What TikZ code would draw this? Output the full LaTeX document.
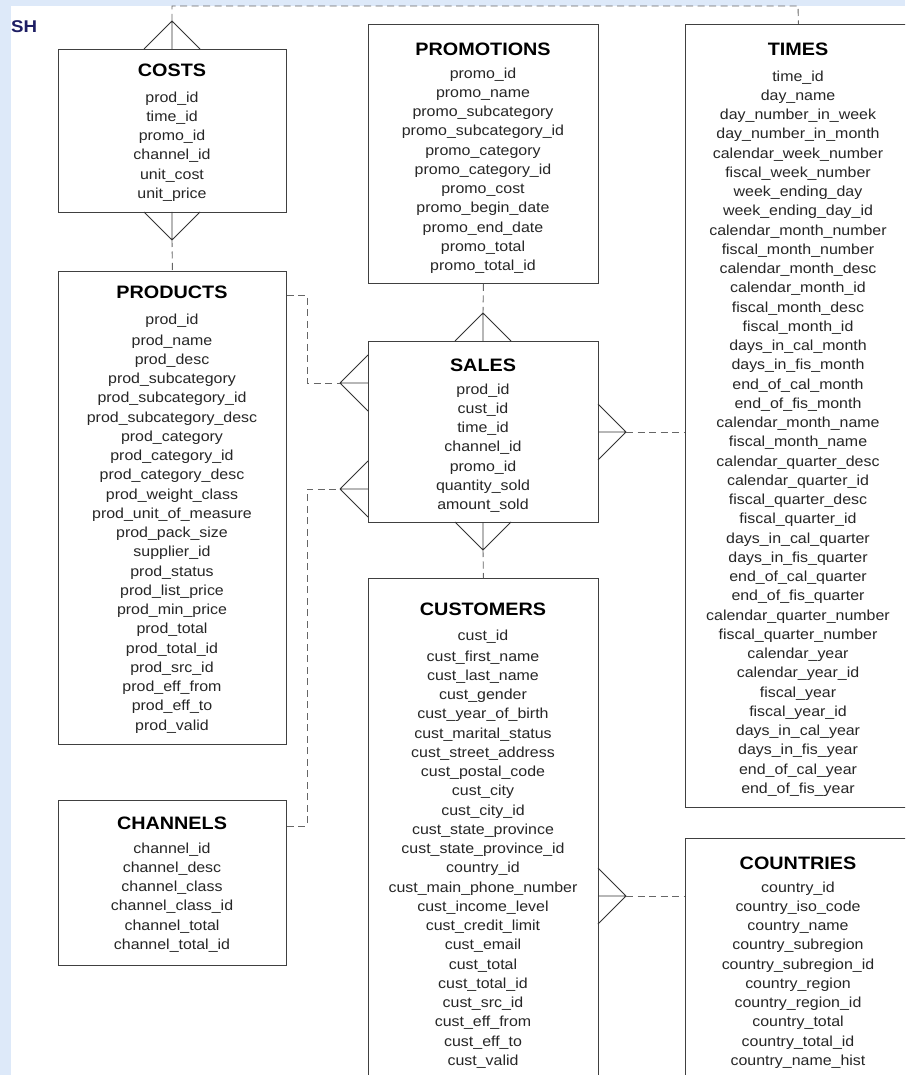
\documentclass[tikz,border=0pt]{standalone}
\usepackage{fontspec}
\setmainfont{Liberation Sans}[FakeStretch=1.1]
\definecolor{slideblue}{RGB}{221,233,249}
\definecolor{shnavy}{RGB}{30,30,100}

\begin{document}
\begin{tikzpicture}[x=1pt,y=-1pt,
  tbl/.style={draw=black!75, line width=0.9pt, fill=white, anchor=north west, inner sep=0pt},
  ttl/.style={font=\fontsize{18}{20}\selectfont\bfseries, inner sep=0pt},
  rows/.style={font=\fontsize{14.5}{19.25}\selectfont, text=black!85, align=center, anchor=north, inner sep=0pt},
  foot/.style={line width=0.9pt, black!80},
  rel/.style={line width=0.9pt, black!60, dash pattern=on 7pt off 4.5pt}]
 \useasboundingbox (0,0) rectangle (905,1075);
 \clip (0,0) rectangle (905,1075);
 \fill[slideblue] (0,0) rectangle (905,1075);
 \fill[white] (11,6) rectangle (905,1075);
 \node[font=\fontsize{17}{20}\selectfont\bfseries, text=shnavy, anchor=west, inner sep=0pt] (sh) at (11,27) {SH};

 % tables
 \node[tbl, minimum width=228, minimum height=163] (costs) at (58,49) {};
 \node[ttl] (costsT) at (172,70) {COSTS};
 \node[rows] (costsR) at (172,91.5) {prod\_id\\time\_id\\promo\_id\\channel\_id\\unit\_cost\\unit\_price};

 \node[tbl, minimum width=228, minimum height=473] (products) at (58,271) {};
 \node[ttl] (productsT) at (172,292) {PRODUCTS};
 \node[rows] (productsR) at (172,313.5) {prod\_id\\[1.75pt]prod\_name\\prod\_desc\\prod\_subcategory\\prod\_subcategory\_id\\prod\_subcategory\_desc\\prod\_category\\prod\_category\_id\\prod\_category\_desc\\prod\_weight\_class\\prod\_unit\_of\_measure\\prod\_pack\_size\\supplier\_id\\prod\_status\\prod\_list\_price\\prod\_min\_price\\prod\_total\\prod\_total\_id\\prod\_src\_id\\prod\_eff\_from\\prod\_eff\_to\\prod\_valid};

 \node[tbl, minimum width=228, minimum height=165] (channels) at (58,800) {};
 \node[ttl] (channelsT) at (172,823) {CHANNELS};
 \node[rows] (channelsR) at (172,842.5) {channel\_id\\channel\_desc\\channel\_class\\channel\_class\_id\\channel\_total\\channel\_total\_id};

 \node[tbl, minimum width=230, minimum height=259] (promotions) at (368,24) {};
 \node[ttl] (promotionsT) at (483,49) {PROMOTIONS};
 \node[rows] (promotionsR) at (483,67.5) {promo\_id\\promo\_name\\promo\_subcategory\\promo\_subcategory\_id\\promo\_category\\promo\_category\_id\\promo\_cost\\promo\_begin\_date\\promo\_end\_date\\promo\_total\\promo\_total\_id};

 \node[tbl, minimum width=230, minimum height=181] (sales) at (368,341) {};
 \node[ttl] (salesT) at (483,365) {SALES};
 \node[rows] (salesR) at (483,383.5) {prod\_id\\cust\_id\\time\_id\\channel\_id\\promo\_id\\quantity\_sold\\amount\_sold};

 \node[tbl, minimum width=230, minimum height=520] (customers) at (368,578) {};
 \node[ttl] (customersT) at (483,609) {CUSTOMERS};
 \node[rows] (customersR) at (483,629.5) {cust\_id\\[1.75pt]cust\_first\_name\\cust\_last\_name\\cust\_gender\\cust\_year\_of\_birth\\cust\_marital\_status\\cust\_street\_address\\cust\_postal\_code\\cust\_city\\cust\_city\_id\\cust\_state\_province\\cust\_state\_province\_id\\country\_id\\cust\_main\_phone\_number\\cust\_income\_level\\cust\_credit\_limit\\cust\_email\\cust\_total\\cust\_total\_id\\cust\_src\_id\\cust\_eff\_from\\cust\_eff\_to\\cust\_valid};

 \node[tbl, minimum width=226, minimum height=783] (times) at (685,24) {};
 \node[ttl] (timesT) at (798,49) {TIMES};
 \node[rows] (timesR) at (798,70.5) {time\_id\\day\_name\\day\_number\_in\_week\\day\_number\_in\_month\\calendar\_week\_number\\fiscal\_week\_number\\week\_ending\_day\\week\_ending\_day\_id\\calendar\_month\_number\\fiscal\_month\_number\\calendar\_month\_desc\\calendar\_month\_id\\fiscal\_month\_desc\\fiscal\_month\_id\\days\_in\_cal\_month\\days\_in\_fis\_month\\end\_of\_cal\_month\\end\_of\_fis\_month\\calendar\_month\_name\\fiscal\_month\_name\\calendar\_quarter\_desc\\calendar\_quarter\_id\\fiscal\_quarter\_desc\\fiscal\_quarter\_id\\days\_in\_cal\_quarter\\days\_in\_fis\_quarter\\end\_of\_cal\_quarter\\end\_of\_fis\_quarter\\calendar\_quarter\_number\\fiscal\_quarter\_number\\calendar\_year\\calendar\_year\_id\\fiscal\_year\\fiscal\_year\_id\\days\_in\_cal\_year\\days\_in\_fis\_year\\end\_of\_cal\_year\\end\_of\_fis\_year};

 \node[tbl, minimum width=226, minimum height=260] (countries) at (685,838) {};
 \node[ttl] (countriesT) at (798,863) {COUNTRIES};
 \node[rows] (countriesR) at (798,881.5) {country\_id\\country\_iso\_code\\country\_name\\country\_subregion\\country\_subregion\_id\\country\_region\\country\_region\_id\\country\_total\\country\_total\_id\\country\_name\_hist};

 % crow's feet
 \coordinate (fCostsT) at (172,21);
 \coordinate (fCostsB) at (172,240);
 \coordinate (fSalesP) at (340,383);
 \coordinate (fSalesC) at (340,489);
 \coordinate (fSalesT) at (483,313);
 \coordinate (fSalesB) at (483,550);
 \coordinate (fSalesR) at (626,432);
 \coordinate (fCust) at (626,896);
 \draw[foot] (fCostsT) -- ++(-28,28) (fCostsT) -- ++(0,28) (fCostsT) -- ++(28,28);
 \draw[foot] (fCostsB) -- ++(-28,-28) (fCostsB) -- ++(0,-28) (fCostsB) -- ++(28,-28);
 \draw[foot] (fSalesP) -- ++(28,-28) (fSalesP) -- ++(28,0) (fSalesP) -- ++(28,28);
 \draw[foot] (fSalesC) -- ++(28,-28) (fSalesC) -- ++(28,0) (fSalesC) -- ++(28,28);
 \draw[foot] (fSalesT) -- ++(-28,28) (fSalesT) -- ++(0,28) (fSalesT) -- ++(28,28);
 \draw[foot] (fSalesB) -- ++(-28,-28) (fSalesB) -- ++(0,-28) (fSalesB) -- ++(28,-28);
 \draw[foot] (fSalesR) -- ++(-28,-28) (fSalesR) -- ++(-28,0) (fSalesR) -- ++(-28,28);
 \draw[foot] (fCust) -- ++(-28,-28) (fCust) -- ++(-28,0) (fCust) -- ++(-28,28);

 % relations
 \coordinate (topL) at (172,6);
 \coordinate (topR) at (798,6);
 \coordinate (bendP) at (307,295);
 \coordinate (bendC) at (307,826);
 \draw[rel] (fCostsT) -- (topL) -- (topR) -- (times.north);
 \draw[rel] (fCostsB) -- (products.north);
 \draw[rel] (products.east |- bendP) -- (bendP) |- (fSalesP);
 \draw[rel] (channels.east |- bendC) -- (bendC) |- (fSalesC);
 \draw[rel] (promotions.south) -- (fSalesT);
 \draw[rel] (fSalesB) -- (customers.north);
 \draw[rel] (fSalesR) -- (times.west |- fSalesR);
 \draw[rel] (fCust) -- (countries.west |- fCust);
\end{tikzpicture}
\end{document}
